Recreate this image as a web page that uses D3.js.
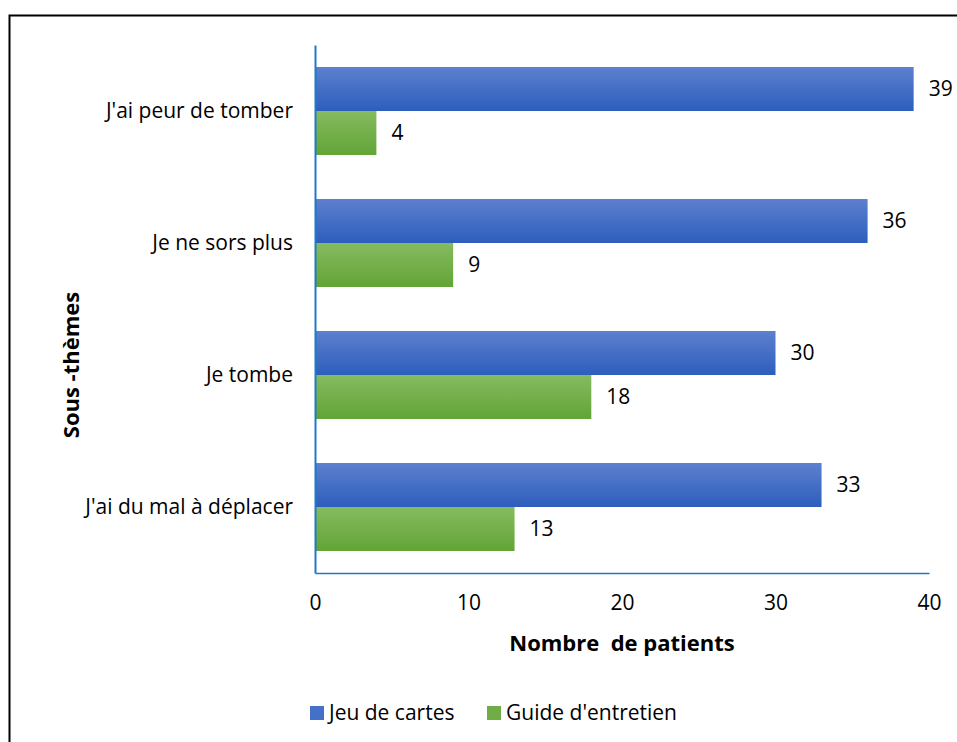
<!DOCTYPE html>
<html><head><meta charset="utf-8">
<script src="https://cdn.jsdelivr.net/npm/d3@7"></script>
<style>body{margin:0;background:#fff}svg{display:block}text{font-family:"Open Sans","Liberation Sans",sans-serif;fill:#000}</style>
</head><body>
<script>
const categories = ["J'ai peur de tomber", "Je ne sors plus", "Je tombe", "J'ai du mal à déplacer"];
const seriesNames = ["Jeu de cartes", "Guide d'entretien"];
const jeuDeCartes = [39, 36, 30, 33];
const guideEntretien = [4, 9, 18, 13];
const xTicks = [0, 10, 20, 30, 40];

(function () {
const W = 957, H = 742;
const FS = 21;
const svg = d3.select("body").append("svg").attr("width", W).attr("height", H);
const defs = svg.append("defs");
function grad(id, c1, c2) {
  const g = defs.append("linearGradient").attr("id", id).attr("x1", 0).attr("y1", 0).attr("x2", 0).attr("y2", 1);
  g.append("stop").attr("offset", "0%").attr("stop-color", c1);
  g.append("stop").attr("offset", "100%").attr("stop-color", c2);
}
grad("gBlue", "#5d80ce", "#2d5ebd");
grad("gGreen", "#86bb60", "#62a436");
const fills = ["url(#gBlue)", "url(#gGreen)"];
const legendColors = ["#4470c8", "#70ad47"];

// outer frame
svg.append("rect").attr("x", 9.5).attr("y", 15.5).attr("width", W + 20).attr("height", H + 20)
  .attr("fill", "none").attr("stroke", "#000").attr("stroke-width", 2);

const mLeft = 315, mRight = 929, mTop = 45, mBottom = 573;
const x = d3.scaleLinear().domain([0, 40]).range([mLeft, mRight]);
const y = d3.scaleBand().domain(categories).range([mTop, mBottom]).paddingInner(1/3).paddingOuter(1/6);
const ySub = d3.scaleBand().domain([0, 1]).range([0, y.bandwidth()]);

const data = categories.map((c, i) => ({cat: c, vals: [jeuDeCartes[i], guideEntretien[i]]}));
const groups = svg.append("g").selectAll("g").data(data).join("g")
  .attr("transform", d => `translate(0,${y(d.cat)})`);
groups.selectAll("rect").data(d => d.vals).join("rect")
  .attr("x", x(0)).attr("y", (v, j) => ySub(j))
  .attr("width", v => x(v) - x(0)).attr("height", ySub.bandwidth())
  .attr("fill", (v, j) => fills[j]);
groups.selectAll("text.val").data(d => d.vals).join("text").attr("class", "val")
  .attr("x", v => x(v) + 15).attr("y", (v, j) => ySub(j) + ySub.bandwidth() / 2)
  .attr("dy", "0.35em").attr("font-size", FS).text(v => v);

// axes
const xAxis = d3.axisBottom(x).tickValues(xTicks).tickSize(0).tickPadding(22);
const gx = svg.append("g").attr("transform", `translate(0,${mBottom})`).call(xAxis);
gx.select(".domain").attr("stroke", "#1f7ac6").attr("stroke-width", 1.5);
gx.selectAll("text").attr("font-size", FS).attr("font-family", "'Open Sans','Liberation Sans',sans-serif");

const yAxis = d3.axisLeft(y).tickSize(0).tickPadding(22);
const gy = svg.append("g").attr("transform", `translate(${mLeft},0)`).call(yAxis);
gy.select(".domain").attr("stroke", "#1f7ac6").attr("stroke-width", 2);
gy.selectAll("text").attr("font-size", FS).attr("font-family", "'Open Sans','Liberation Sans',sans-serif");

svg.append("text").attr("x", 622).attr("y", 651).attr("text-anchor", "middle")
  .attr("font-size", 22).attr("font-weight", "bold").style("white-space", "pre")
  .text("Nombre  de patients");
svg.append("text").attr("transform", "translate(79,365) rotate(-90)").attr("text-anchor", "middle")
  .attr("font-size", 22).attr("font-weight", "bold").style("white-space", "pre").text("Sous -thèmes");

// legend
const legX = [310, 487];
const leg = svg.append("g").selectAll("g").data(seriesNames).join("g")
  .attr("transform", (d, i) => `translate(${legX[i]},706)`);
leg.append("rect").attr("width", 14).attr("height", 14).attr("fill", (d, i) => legendColors[i]);
leg.append("text").attr("x", 19).attr("y", 7).attr("dy", "0.35em").attr("font-size", FS).text(d => d);
})();
</script>
</body></html>
